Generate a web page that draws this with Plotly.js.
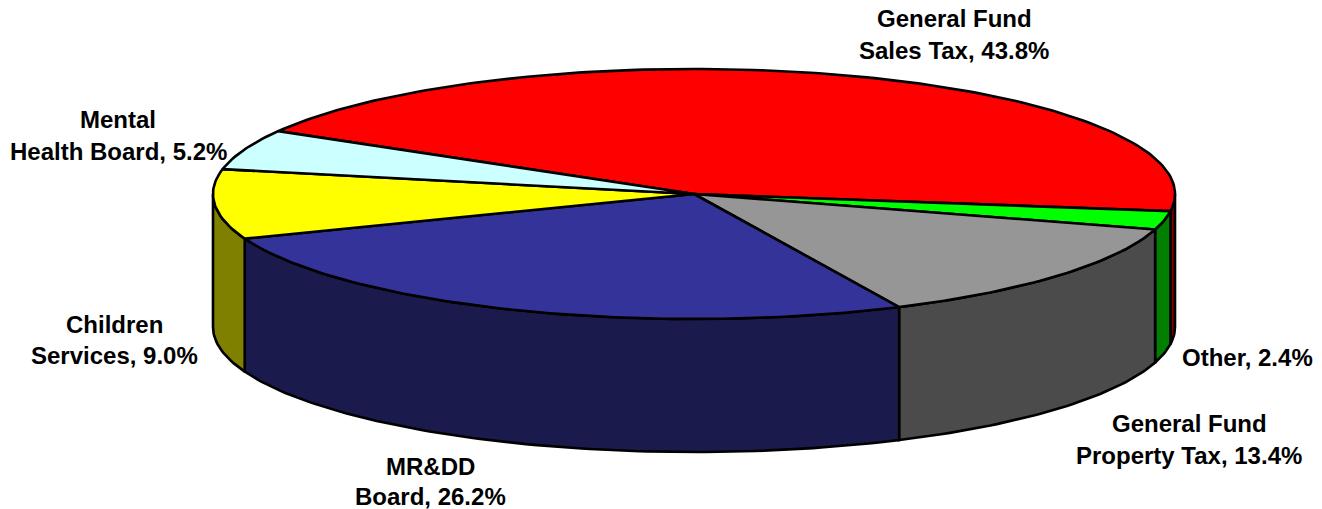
<!DOCTYPE html>
<html>
<head>
<meta charset="utf-8">
<script src="https://cdn.plot.ly/plotly-3.0.1.min.js"></script>
<style>html,body{margin:0;padding:0;background:#fff}#c{width:1322px;height:509px}</style>
</head>
<body>
<div id="c"></div>
<script>
var categories = ["General Fund Sales Tax", "Other", "General Fund Property Tax", "MR&DD Board", "Children Services", "Mental Health Board"];
var shares = [43.8, 2.4, 13.4, 26.2, 9.0, 5.2];
var labelLines = [["General Fund", "Sales Tax, 43.8%"], ["Other, 2.4%"], ["General Fund", "Property Tax, 13.4%"], ["MR&DD", "Board, 26.2%"], ["Children", "Services, 9.0%"], ["Mental", "Health Board, 5.2%"]];

// Styles
var topColors = ["#FF0000", "#00FF00", "#969696", "#333399", "#FFFF00", "#CCFFFF"];
var wallColors = ["#7F0000", "#007F00", "#4B4B4B", "#1A1A4D", "#7F7F00", "#667F7F"];
var labelCenters = [[954, [18, 50]], [1247, [357]], [1189, [423, 455]], [430, [466, 496]], [114, [324, 355]], [118, [119, 151]]];

// Projection of the tilted disc onto the page
var CX = 694, CY = 194, RX = 481, RY = 125, DEPTH = 133, START = -59.8, LW = 2.6;
function px(a) { return CX + RX * Math.sin(a * Math.PI / 180); }
function py(a) { return CY - RY * Math.cos(a * Math.PI / 180); }
function arc(a0, a1, dy) {
  var n = Math.max(2, Math.ceil(Math.abs(a1 - a0))), xs = [], ys = [];
  for (var i = 0; i <= n; i++) {
    var a = a0 + (a1 - a0) * i / n;
    xs.push(px(a)); ys.push(py(a) + dy);
  }
  return [xs, ys];
}
function poly(xs, ys, color, name) {
  return {type: "scatter", mode: "lines", x: xs, y: ys, fill: "toself", fillcolor: color, name: name,
          line: {color: "#000", width: LW, shape: "linear"}, hoverinfo: "name", showlegend: false};
}

var bounds = [], acc = START;
shares.forEach(function (s) { bounds.push([acc, acc + s * 3.6]); acc += s * 3.6; });

var walls = [], tops = [];
bounds.forEach(function (b, i) {
  var a0 = Math.max(b[0], 90), a1 = Math.min(b[1], 270);
  if (a1 > a0) {
    var t = arc(a0, a1, 0), u = arc(a1, a0, DEPTH);
    var xs = t[0].concat(u[0]); xs.push(xs[0]);
    var ys = t[1].concat(u[1]); ys.push(ys[0]);
    walls.push(poly(xs, ys, wallColors[i], categories[i]));
  }
  var e = arc(b[0], b[1], 0);
  tops.push(poly([CX].concat(e[0], [CX]), [CY].concat(e[1], [CY]), topColors[i], categories[i]));
});

var annotations = [];
labelLines.forEach(function (lines, i) {
  lines.forEach(function (txt, j) {
    annotations.push({x: labelCenters[i][0], y: labelCenters[i][1][j], text: txt, showarrow: false,
      xanchor: "center", yanchor: "middle", font: {family: "Liberation Sans", size: 24, color: "#000", weight: 700}});
  });
});

Plotly.newPlot("c", walls.concat(tops), {
  width: 1322, height: 509, margin: {l: 0, r: 0, t: 0, b: 0},
  paper_bgcolor: "#fff", plot_bgcolor: "#fff", showlegend: false,
  xaxis: {range: [0, 1322], visible: false, fixedrange: true},
  yaxis: {range: [509, 0], visible: false, fixedrange: true},
  annotations: annotations
}, {displayModeBar: false, staticPlot: true});
</script>
</body>
</html>
